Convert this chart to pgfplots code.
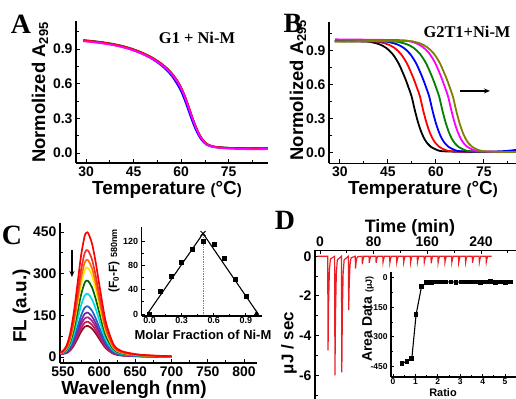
\documentclass[border=0pt]{standalone}
\usepackage{fontspec}
\setmainfont{Liberation Serif}
\newfontfamily\arial{Liberation Sans}
\usepackage{pgfplots}
\pgfplotsset{compat=1.18}
\usepackage{pgfplotstable}
\usetikzlibrary{arrows.meta}

\definecolor{olv}{RGB}{128,128,0}
\definecolor{grn}{RGB}{0,128,0}
\definecolor{mag}{RGB}{255,0,255}
\definecolor{blu}{RGB}{0,0,255}
\definecolor{rd}{RGB}{255,0,0}
\definecolor{c1}{RGB}{255,0,0}
\definecolor{c2}{RGB}{238,50,45}
\definecolor{c3}{RGB}{255,110,0}
\definecolor{c4}{RGB}{255,230,0}
\definecolor{c5}{RGB}{0,100,0}
\definecolor{c6}{RGB}{0,220,230}
\definecolor{c7}{RGB}{30,100,200}
\definecolor{c8}{RGB}{110,40,160}
\definecolor{c9}{RGB}{170,30,150}
\definecolor{c10}{RGB}{200,30,70}
\definecolor{c11}{RGB}{140,10,40}
\definecolor{itc}{RGB}{235,30,35}

\newcommand\sfb[1]{\arial\bfseries\fontsize{#1}{#1}\selectfont}
\newcommand\tmb[1]{\bfseries\fontsize{#1}{#1}\selectfont}

\pgfplotsset{pan/.style={scale only axis, anchor=south west,
  axis line style={line width=1.1bp}, tick style={line width=0.9bp, black},
  major tick length=4bp, minor tick length=2.5bp, tick align=inside,
  /pgf/number format/assume math mode=true, /pgf/number format/1000 sep={},
  ticklabel style={font=\sfb{14}}}}

\pgfplotstableread{
T    k     g     b     r     m
29.1 0.973 0.977 0.971 0.975 0.967
32   0.965 0.969 0.963 0.967 0.959
35   0.955 0.959 0.952 0.957 0.949
38   0.942 0.946 0.939 0.944 0.936
41   0.925 0.929 0.921 0.927 0.919
44   0.902 0.906 0.897 0.904 0.896
47   0.872 0.876 0.866 0.874 0.866
50   0.835 0.838 0.827 0.837 0.829
52   0.803 0.806 0.793 0.805 0.797
54   0.765 0.767 0.752 0.767 0.759
55.5 0.730 0.732 0.714 0.732 0.724
57   0.688 0.689 0.668 0.690 0.682
58   0.652 0.653 0.628 0.654 0.646
59   0.612 0.613 0.584 0.614 0.606
60   0.563 0.563 0.532 0.565 0.557
61   0.500 0.500 0.466 0.502 0.494
62   0.425 0.426 0.392 0.428 0.420
63   0.345 0.346 0.314 0.348 0.341
64   0.268 0.269 0.241 0.271 0.265
65   0.200 0.201 0.179 0.203 0.197
66   0.145 0.146 0.130 0.148 0.142
67   0.105 0.106 0.095 0.108 0.102
68   0.078 0.079 0.072 0.080 0.075
69.5 0.060 0.061 0.056 0.061 0.057
71   0.052 0.053 0.049 0.052 0.048
74   0.045 0.046 0.043 0.045 0.040
78   0.041 0.042 0.040 0.041 0.035
83   0.039 0.040 0.038 0.039 0.033
87.3 0.040 0.041 0.039 0.040 0.034
}\dataA

\pgfplotstableread{
l   a     b     c     d     e     f     g     h     i     j     k
545 15.5  14.9  14.5  14.2  13.8  13.3  12.8  12.6  12.4  12.3  12.1
550 21.9  19.9  18.9  18.0  16.5  15.1  13.7  13.0  12.4  11.9  11.5
555 41.3  36.2  33.4  31.1  27.3  23.5  19.8  18.0  16.6  15.3  14.1
560 85.4  73.8  67.4  62.2  53.6  45.0  36.7  32.4  29.3  26.4  23.6
565 160.5 138.2 125.8 115.8 99.1  82.4  66.5  58.3  52.3  46.6  41.3
570 261.2 224.6 204.2 187.9 160.5 133.2 107.0 93.6  83.7  74.4  65.7
575 365.1 313.8 285.3 262.4 224.1 185.8 149.1 130.4 116.5 103.5 91.3
580 435.5 374.2 340.2 313.0 267.3 221.6 177.9 155.5 139.0 123.4 108.9
583 448.0 385.0 350.0 322.0 275.0 228.0 183.0 160.0 143.0 127.0 112.0
585 444.9 382.3 347.6 319.7 273.1 226.4 181.7 158.9 142.0 126.1 111.2
590 409.5 351.9 319.9 294.3 251.4 208.4 167.3 146.2 130.7 116.1 102.4
595 344.1 295.7 268.8 247.3 211.2 175.1 140.5 122.9 109.8 97.5  86.0
600 263.4 226.4 205.8 189.3 161.7 134.1 107.6 94.1  84.1  74.7  65.9
605 184.1 158.2 143.9 132.3 113.0 93.7  75.2  65.8  58.8  52.2  46.0
610 117.4 100.9 91.7  84.4  72.1  59.7  47.9  41.9  37.5  33.3  29.3
620 44.8  38.5  35.0  32.2  27.5  22.8  18.3  16.0  14.3  12.7  11.2
630 22.4  19.3  17.5  16.1  13.8  11.4  9.2   8.0   7.2   6.4   5.6
645 12.5  10.8  9.8   9.0   7.7   6.4   5.1   4.5   4.0   3.6   3.1
660 7.6   6.5   6.0   5.5   4.7   3.9   3.1   2.7   2.4   2.2   1.9
680 4.5   3.9   3.5   3.2   2.8   2.3   1.8   1.6   1.4   1.3   1.1
700 2.7   2.3   2.1   1.9   1.7   1.4   1.1   1.0   0.9   0.8   0.7
}\dataC

\pgfplotstableread{
r    v
0.40 -436
0.62 -425
0.84 -410
1.03 -187
1.27 -45
1.49 -25
1.71 -22
1.93 -20
2.15 -21
2.37 -20
2.59 -20
2.81 -22
3.03 -21
3.25 -20
3.47 -20
3.69 -21
3.91 -24
4.13 -20
4.35 -19
4.57 -22
4.79 -20
5.01 -23
5.23 -20
}\dataD

\begin{document}
\begin{tikzpicture}
\path[use as bounding box] (0bp,0bp) rectangle (516bp,399bp);
\clip (0bp,0bp) rectangle (516bp,399bp);

% ---------------- A
\begin{axis}[pan, at={(76bp,236bp)}, width=192bp, height=142bp,
  xmin=26.8, xmax=87.4, ymin=-0.0865, ymax=1.142,
  axis x line*=bottom, axis y line*=left,
  xtick={30,45,60,75}, minor xtick={37.5,52.5,67.5,82.5},
  ytick={0,0.3,0.6,0.9}, minor ytick={0.15,0.45,0.75,1.05},
  yticklabel style={/pgf/number format/.cd,fixed,fixed zerofill,precision=1}]
\addplot[black, line width=1.8bp, smooth] table[x=T,y=k] {\dataA};
\addplot[grn, line width=1.8bp, smooth] table[x=T,y=g] {\dataA};
\addplot[blu, line width=1.8bp, smooth] table[x=T,y=b] {\dataA};
\addplot[rd, line width=1.8bp, smooth] table[x=T,y=r] {\dataA};
\addplot[mag, line width=1.8bp, smooth] table[x=T,y=m] {\dataA};
\end{axis}

% ---------------- B
\begin{axis}[pan, at={(329bp,235.7bp)}, width=192bp, height=141.6bp,
  xmin=26.6, xmax=86.6, ymin=-0.094, ymax=1.156,
  axis x line*=bottom, axis y line*=left,
  xtick={30,45,60,75}, minor xtick={37.5,52.5,67.5,82.5},
  ytick={0,0.3,0.6,0.9}, minor ytick={0.15,0.45,0.75,1.05},
  yticklabel style={/pgf/number format/.cd,fixed,fixed zerofill,precision=1}]
\addplot[black, line width=1.8bp, smooth] coordinates {(28.4,0.985) (33,0.984) (38.4,0.981) (40.4,0.972) (42.4,0.956) (44.4,0.926) (46.4,0.873) (48.4,0.785) (50.4,0.656) (51.4,0.579) (52.4,0.498) (53.4,0.377) (54.4,0.270) (55.4,0.185) (56.4,0.122) (57.4,0.080) (58.4,0.052) (60.4,0.023) (62.4,0.012) (70,0.007) (86.5,0.006)};
\addplot[rd, line width=1.8bp, smooth] coordinates {(28.4,0.985) (34,0.984) (41,0.981) (43,0.972) (45,0.956) (47,0.926) (49,0.873) (51,0.785) (53,0.656) (54,0.579) (55,0.498) (56,0.377) (57,0.270) (58,0.185) (59,0.122) (60,0.080) (61,0.052) (63,0.023) (65,0.012) (72,0.007) (86.5,0.006)};
\addplot[blu, line width=1.8bp, smooth] coordinates {(28.4,0.985) (36,0.984) (43.9,0.981) (45.9,0.972) (47.9,0.956) (49.9,0.926) (51.9,0.873) (53.9,0.785) (55.9,0.656) (56.9,0.579) (57.9,0.498) (58.9,0.377) (59.9,0.270) (60.9,0.185) (61.9,0.122) (62.9,0.080) (63.9,0.052) (65.9,0.023) (67.9,0.012) (75,0.008) (82,0.015) (86.5,0.030)};
\addplot[grn, line width=1.8bp, smooth] coordinates {(28.4,0.985) (39,0.984) (47,0.981) (49,0.972) (51,0.956) (53,0.926) (55,0.873) (57,0.785) (59,0.656) (60,0.579) (61,0.498) (62,0.377) (63,0.270) (64,0.185) (65,0.122) (66,0.080) (67,0.052) (69,0.023) (71,0.012) (78,0.007) (86.5,0.006)};
\addplot[mag, line width=1.8bp, smooth] coordinates {(28.4,1.0) (42,0.996) (49.8,0.992) (51.8,0.983) (53.8,0.966) (55.8,0.935) (57.8,0.881) (59.8,0.791) (61.8,0.658) (62.8,0.579) (63.8,0.498) (64.8,0.377) (65.8,0.270) (66.8,0.185) (67.8,0.122) (68.8,0.080) (69.8,0.052) (71.8,0.023) (73.8,0.012) (80,0.007) (86.5,0.006)};
\addplot[olv, line width=1.8bp, smooth] coordinates {(28.4,0.978) (40,0.985) (51.3,0.985) (53.3,0.978) (55.3,0.962) (57.3,0.930) (59.3,0.876) (61.3,0.787) (63.3,0.656) (64.3,0.579) (65.3,0.498) (66.3,0.377) (67.3,0.270) (68.3,0.185) (69.3,0.122) (70.3,0.080) (71.3,0.052) (73.3,0.023) (75.3,0.012) (80,0.007) (86.5,0.006)};
\draw[-{Stealth[length=6bp,width=5bp]}, line width=1.3bp] (axis cs:67.5,0.545) -- (axis cs:76.9,0.545);
\end{axis}

% ---------------- C main
\begin{axis}[pan, at={(60bp,36bp)}, width=197bp, height=140bp,
  xmin=545.9, xmax=818, ymin=-21.6, ymax=482.4,
  axis x line*=bottom, axis y line*=left,
  xtick={550,600,650,700,750,800}, minor xtick={575,625,675,725,775},
  ytick={0,150,300,450}, minor ytick={75,225,375}]
\addplot[c11, line width=1.7bp, smooth] table[x=l,y=k] {\dataC};
\addplot[c10, line width=1.7bp, smooth] table[x=l,y=j] {\dataC};
\addplot[c9, line width=1.7bp, smooth] table[x=l,y=i] {\dataC};
\addplot[c8, line width=1.7bp, smooth] table[x=l,y=h] {\dataC};
\addplot[c7, line width=1.7bp, smooth] table[x=l,y=g] {\dataC};
\addplot[c6, line width=1.7bp, smooth] table[x=l,y=f] {\dataC};
\addplot[c5, line width=1.7bp, smooth] table[x=l,y=e] {\dataC};
\addplot[c4, line width=1.7bp, smooth] table[x=l,y=d] {\dataC};
\addplot[c3, line width=1.7bp, smooth] table[x=l,y=c] {\dataC};
\addplot[c2, line width=1.7bp, smooth] table[x=l,y=b] {\dataC};
\addplot[c1, line width=1.7bp, smooth] table[x=l,y=a] {\dataC};
\draw[-{Stealth[length=6bp,width=5bp]}, line width=1.2bp] (axis cs:562.4,385) -- (axis cs:562.4,288);
\end{axis}

% ---------------- C inset
\begin{axis}[pan, at={(141.7bp,83bp)}, width=120bp, height=89.3bp,
  xmin=-0.073, xmax=1.048, ymin=-3.3, ymax=144.3,
  axis x line*=bottom, axis y line*=left, clip=false,
  ticklabel style={font=\sfb{9}},
  xticklabel style={inner sep=1bp},
  major tick length=3bp, minor tick length=2bp,
  xtick={0,0.3,0.6,0.9}, minor xtick={0.15,0.45,0.75},
  ytick={0,40,80,120}, minor ytick={20,60,100},
  xticklabel style={/pgf/number format/.cd,fixed,fixed zerofill,precision=1}]
\addplot[gray, densely dotted, line width=0.7bp] coordinates {(0.5,0) (0.5,133)};
\addplot[black, line width=1.1bp] coordinates {(-0.02,0) (0.5,133) (1.015,0)};
\addplot[black, only marks, mark=square*, mark size=2bp] coordinates {(0,-1) (0.1,38.5) (0.2,61.7) (0.3,84.8) (0.4,107.4) (0.5,120.7) (0.6,115) (0.7,93) (0.8,57.3) (0.9,29.8)};
\addplot[black, only marks, mark=triangle*, mark size=3bp] coordinates {(1.0,0)};
\addplot[black, only marks, mark=x, mark size=3.5bp, line width=1bp] coordinates {(0.5,133)};
\end{axis}

% ---------------- D main
\begin{axis}[pan, at={(315bp,-6bp)}, width=225bp, height=154.7bp,
  xmin=-7.45, xmax=328, ymin=-7.5, ymax=0.3,
  axis x line*=top, axis y line*=left,
  xtick={0,80,160,240}, minor xtick={40,120,200,280},
  ytick={0,-2,-4,-6}, minor ytick={-1,-3,-5,-7}]
\addplot[itc, line width=1.2bp] coordinates {(-4,0) (11.5,0) (12,-4.75) (12.8,-2.38) (14,-0.71) (15.5,-0.14) (21.8,0) (22.3,-6.0) (23.1,-3.0) (24.3,-0.9) (25.8,-0.18) (32,0) (32.5,-5.85) (33.3,-2.93) (34.5,-0.88) (36,-0.18) (42.3,0) (42.8,-2.72) (43.6,-1.36) (44.8,-0.41) (46.3,-0.08) (52.5,0) (53,-0.62) (53.8,-0.31) (55,-0.09) (56.5,-0.02)
(62.8,0) (63.2,-0.40) (64.0,-0.20) (65.3,0)
(73.1,0) (73.5,-0.33) (74.3,-0.16) (75.6,0)
(83.3,0) (83.7,-0.33) (84.5,-0.16) (85.8,0)
(93.6,0) (94.0,-0.30) (94.8,-0.15) (96.1,0)
(103.8,0) (104.2,-0.32) (105.0,-0.16) (106.3,0)
(114.1,0) (114.5,-0.30) (115.3,-0.15) (116.6,0)
(124.4,0) (124.8,-0.30) (125.6,-0.15) (126.9,0)
(134.6,0) (135.0,-0.32) (135.8,-0.16) (137.1,0)
(144.9,0) (145.3,-0.30) (146.1,-0.15) (147.4,0)
(155.1,0) (155.5,-0.30) (156.3,-0.15) (157.6,0)
(165.4,0) (165.8,-0.35) (166.6,-0.17) (167.9,0)
(175.7,0) (176.1,-0.32) (176.9,-0.16) (178.2,0)
(185.9,0) (186.3,-0.30) (187.1,-0.15) (188.4,0)
(196.2,0) (196.6,-0.30) (197.4,-0.15) (198.7,0)
(206.4,0) (206.8,-0.32) (207.6,-0.16) (208.9,0)
(216.7,0) (217.1,-0.30) (217.9,-0.15) (219.2,0)
(227.0,0) (227.4,-0.33) (228.2,-0.16) (229.5,0)
(237.2,0) (237.6,-0.30) (238.4,-0.15) (239.7,0)
(247.5,0) (247.9,-0.30) (248.7,-0.15) (250.0,0)
(256,0)};
\end{axis}

% ---------------- D inset
\begin{axis}[pan, at={(391bp,22bp)}, width=134.2bp, height=105bp,
  xmin=-0.09, xmax=5.9, ymin=-505.6, ymax=30.3,
  axis x line*=bottom, axis y line*=left,
  ticklabel style={font=\sfb{8.5}},
  xticklabel style={inner sep=1bp},
  major tick length=3bp, minor tick length=2bp,
  xtick={0,1,2,3,4,5}, minor xtick={0.5,1.5,2.5,3.5,4.5},
  ytick={0,-150,-300,-450}, minor ytick={-75,-225,-375}]
\addplot[black, line width=1.1bp, mark=square*, mark size=1.8bp] table[x=r,y=v] {\dataD};
\end{axis}

% ---------------- texts
\node[font=\tmb{28}] at (21bp,375bp) {A};
\node[font=\tmb{28}] at (293bp,376bp) {B};
\node[font=\tmb{28}] at (12bp,164bp) {C};
\node[font=\tmb{28}] at (285bp,179bp) {D};
\node[font=\tmb{16.5}] at (197bp,361.5bp) {G1 + Ni-M};
\node[font=\tmb{16.5}] at (467bp,367.5bp) {G2T1+Ni-M};
\node[rotate=90, font=\sfb{18.5}] at (40bp,306.5bp) {Normolized A\textsubscript{295}};
\node[rotate=90, font=\sfb{18.5}] at (298bp,309bp) {Normolized A\textsubscript{295}};
\node[font=\sfb{19}] at (167bp,209bp) {Temperature {\fontsize{15}{15}\selectfont(}°C{\fontsize{15}{15}\selectfont)}};
\node[font=\sfb{19}] at (423bp,209bp) {Temperature {\fontsize{15}{15}\selectfont(}°C{\fontsize{15}{15}\selectfont)}};
\node[rotate=90, font=\sfb{19}] at (21.5bp,93bp) {FL (a.u.)};
\node[font=\sfb{19}] at (134bp,9bp) {Wavelengh (nm)};
\node[rotate=90, font=\sfb{12}] at (114bp,138bp) {(F\textsubscript{0}-F) {\fontsize{9}{9}\selectfont 580nm}};
\node[font=\sfb{13}, inner sep=0pt] at (203bp,64.5bp) {Molar Fraction of Ni-M};
\node[font=\sfb{18}] at (410bp,171bp) {Time (min)};
\node[rotate=90, font=\sfb{17}] at (289bp,56bp) {μJ / sec};
\node[rotate=90, font=\sfb{14}] at (368bp,80bp) {Area Data {\fontsize{9}{9}\selectfont(μJ)}};
\node[font=\sfb{11}, inner sep=0pt] at (443bp,6bp) {Ratio};
\end{tikzpicture}
\end{document}
